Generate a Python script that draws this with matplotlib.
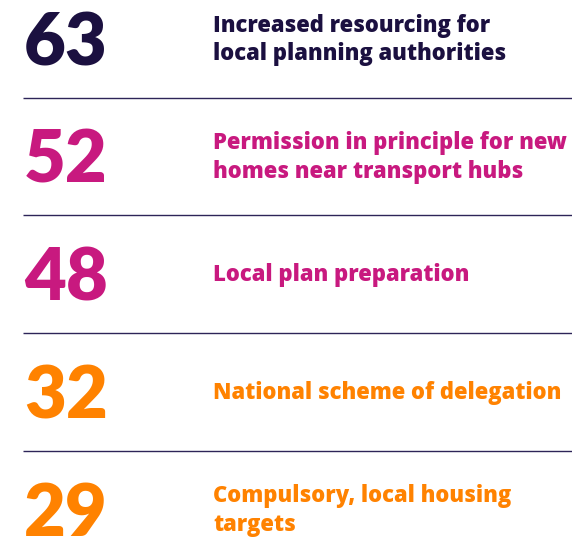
import matplotlib
matplotlib.use("Agg")
import matplotlib.pyplot as plt

values = [63, 52, 48, 32, 29]
labels = [
    "Increased resourcing for\nlocal planning authorities",
    "Permission in principle for new\nhomes near transport hubs",
    "Local plan preparation",
    "National scheme of delegation",
    "Compulsory, local housing\ntargets",
]
colors = ["#1b1040", "#c8197f", "#c8197f", "#ff8200", "#ff8200"]

W, H = 572, 538
fig = plt.figure(figsize=(W / 100, H / 100), dpi=100)
ax = fig.add_axes([0, 0, 1, 1])
ax.set_xlim(0, W)
ax.set_ylim(H, 0)
ax.axis("off")

step = 117.7
for i, (v, lab, c) in enumerate(zip(values, labels, colors)):
    base = 65 + i * step
    ax.text(24, base, str(v), color=c, fontsize=52, fontweight="heavy",
            family="Lato", ha="left", va="baseline")
    lines = lab.split("\n")
    if len(lines) == 1:
        first = 45.5 + i * step
    else:
        first = 31.5 + i * step
    for k, ln in enumerate(lines):
        ax.text(213, first + k * 28.5, ln, color=c, fontsize=15.8,
                fontweight=800, family="Open Sans", ha="left",
                va="baseline")
    if i < len(values) - 1:
        ax.plot([23, W], [base + 32.5, base + 32.5], color="#2d2458", lw=1.0,
                solid_capstyle="butt")

fig.savefig("out.png", dpi=100)
